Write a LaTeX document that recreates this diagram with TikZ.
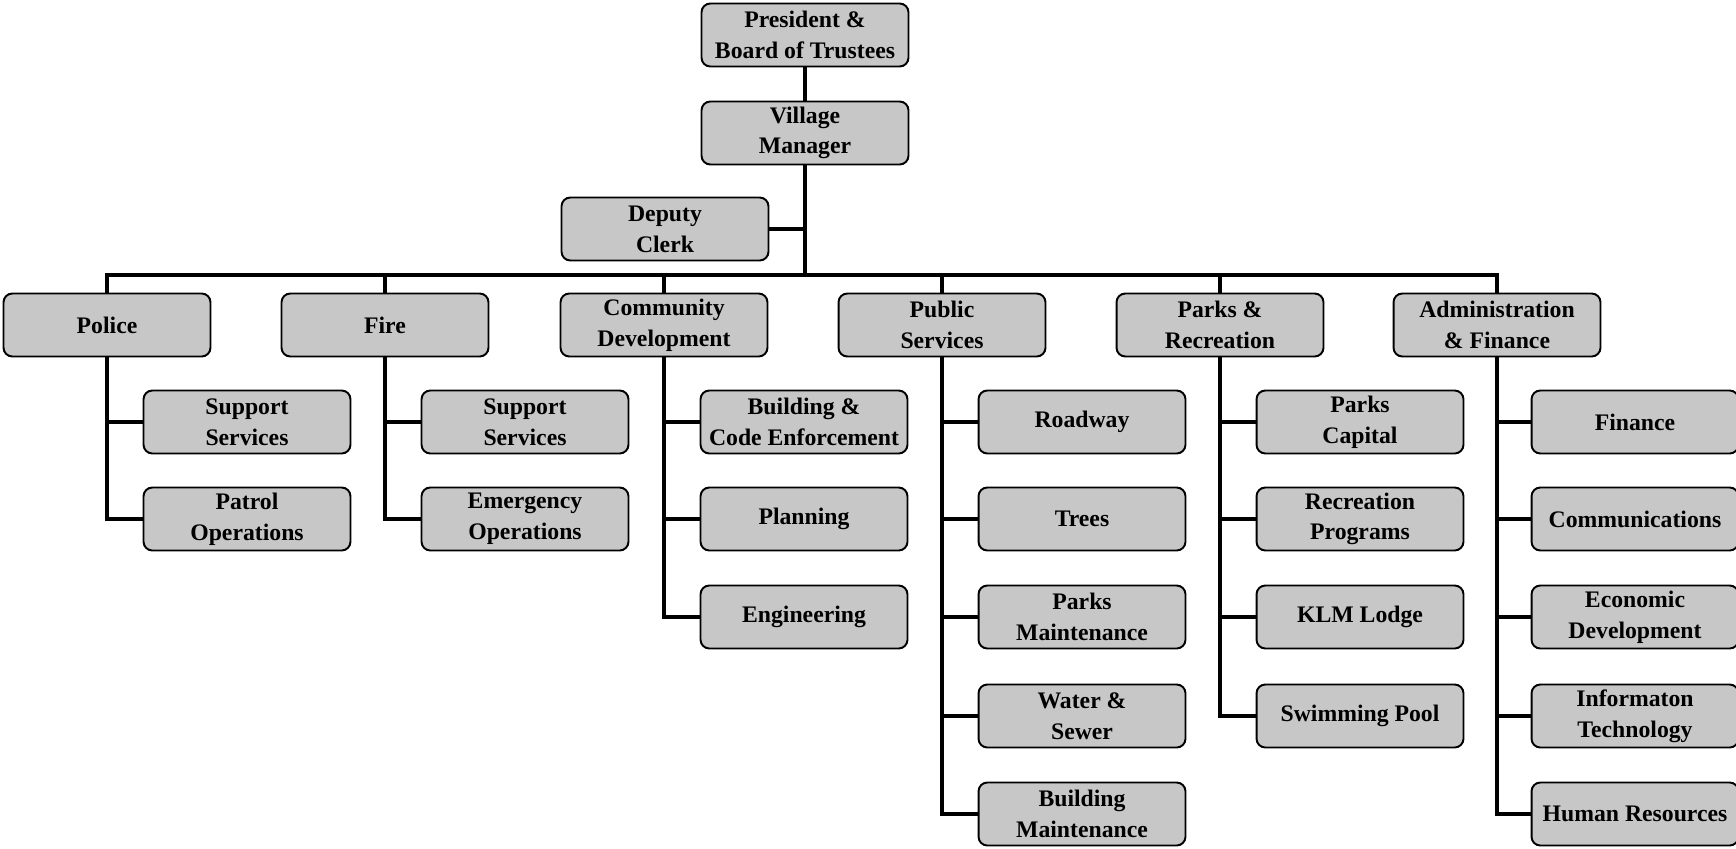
\documentclass[tikz,border=0pt]{standalone}
\usepackage{fontspec}
\setmainfont{Liberation Serif}

\begin{document}
\begin{tikzpicture}[x=0.02cm, y=-0.02cm,
        box/.style={draw, line width=1.1pt, rounded corners=5pt, fill=black!22,
            minimum width=4.14cm, minimum height=1.26cm, align=center,
            inner sep=1pt, font=\bfseries\fontsize{13.5}{17.5}\selectfont},
        link/.style={line width=2.8pt}]
        \useasboundingbox (0,0) rectangle (1736,848);

        \node[box] (pres) at (805, 35) {President \&\\Board of Trustees};
        \node[box] (vm) at (805, 133) {Village\\Manager};
        \node[box] (deputy) at (665, 229) {Deputy\\Clerk};
        \coordinate (bus) at (805, 275);

        \node[box] (police) at (107, 325) {Police};
        \node[box] (fire) at (385, 325) {Fire};
        \node[box] (cd) at (664, 325) {Community\\Development};
        \node[box] (ps) at (942, 325) {Public\\Services};
        \node[box] (pr) at (1220, 325) {Parks \&\\Recreation};
        \node[box] (af) at (1497, 325) {Administration\\\& Finance};

        \node[box] (police1) at (247, 422) {Support\\Services};
        \node[box] (police2) at (247, 519) {Patrol\\Operations};

        \node[box] (fire1) at (525, 422) {Support\\Services};
        \node[box] (fire2) at (525, 519) {Emergency\\Operations};

        \node[box] (cd1) at (804, 422) {Building \&\\Code Enforcement};
        \node[box] (cd2) at (804, 519) {Planning};
        \node[box] (cd3) at (804, 617) {Engineering};

        \node[box] (ps1) at (1082, 422) {Roadway};
        \node[box] (ps2) at (1082, 519) {Trees};
        \node[box] (ps3) at (1082, 617) {Parks\\Maintenance};
        \node[box] (ps4) at (1082, 716) {Water \&\\Sewer};
        \node[box] (ps5) at (1082, 814) {Building\\Maintenance};

        \node[box] (pr1) at (1360, 422) {Parks\\Capital};
        \node[box] (pr2) at (1360, 519) {Recreation\\Programs};
        \node[box] (pr3) at (1360, 617) {KLM Lodge};
        \node[box] (pr4) at (1360, 716) {Swimming Pool};

        \node[box] (af1) at (1635, 422) {Finance};
        \node[box] (af2) at (1635, 519) {Communications};
        \node[box] (af3) at (1635, 617) {Economic\\Development};
        \node[box] (af4) at (1635, 716) {Informaton\\Technology};
        \node[box] (af5) at (1635, 814) {Human Resources};

        \draw[link] (pres) -- (vm);
        \draw[link] (vm) -- (bus);
        \draw[link] (deputy.east) -- (deputy.east -| vm.south);
        \draw[link] (police.north) |- (af.north |- bus) -- (af.north);
        \draw[link] (fire.north) -- (fire.north |- bus);
        \draw[link] (cd.north) -- (cd.north |- bus);
        \draw[link] (ps.north) -- (ps.north |- bus);
        \draw[link] (pr.north) -- (pr.north |- bus);

        \draw[link] (police.south) |- (police1.west);
        \draw[link] (police.south) |- (police2.west);
        \draw[link] (fire.south) |- (fire1.west);
        \draw[link] (fire.south) |- (fire2.west);
        \draw[link] (cd.south) |- (cd1.west);
        \draw[link] (cd.south) |- (cd2.west);
        \draw[link] (cd.south) |- (cd3.west);
        \draw[link] (ps.south) |- (ps1.west);
        \draw[link] (ps.south) |- (ps2.west);
        \draw[link] (ps.south) |- (ps3.west);
        \draw[link] (ps.south) |- (ps4.west);
        \draw[link] (ps.south) |- (ps5.west);
        \draw[link] (pr.south) |- (pr1.west);
        \draw[link] (pr.south) |- (pr2.west);
        \draw[link] (pr.south) |- (pr3.west);
        \draw[link] (pr.south) |- (pr4.west);
        \draw[link] (af.south) |- (af1.west);
        \draw[link] (af.south) |- (af2.west);
        \draw[link] (af.south) |- (af3.west);
        \draw[link] (af.south) |- (af4.west);
        \draw[link] (af.south) |- (af5.west);

    \end{tikzpicture}
\end{document}
